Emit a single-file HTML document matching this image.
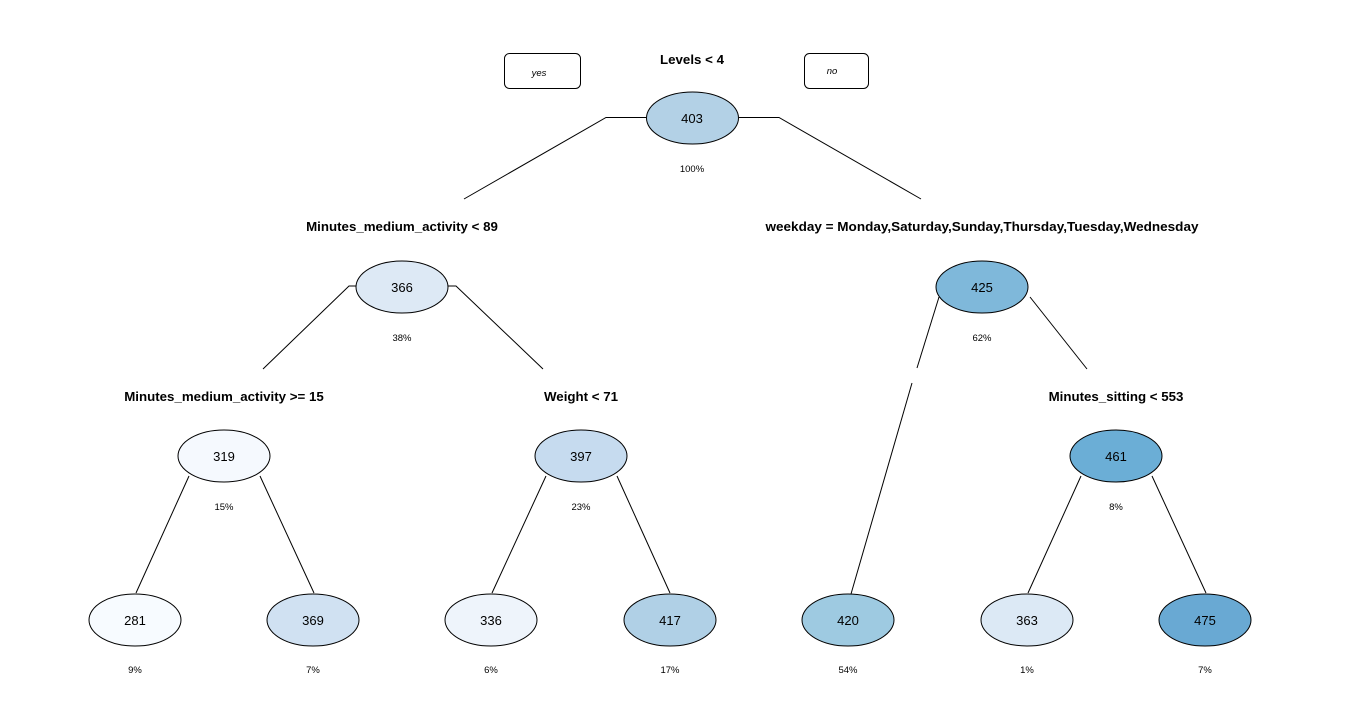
<!DOCTYPE html>
<html><head><meta charset="utf-8"><style>
html,body{margin:0;padding:0;background:#fff;}
svg{display:block;}
text{font-family:"Liberation Sans",Arial,sans-serif;fill:#000;}
.b{font-weight:bold;font-size:13.3px;}
.n{font-size:13px;}
.p{font-size:9.5px;}
.i{font-style:italic;font-size:9.5px;}
ellipse{stroke:#000;stroke-width:1;}
line,polyline{stroke:#000;stroke-width:1;fill:none;}
</style></head><body>
<svg width="1366" height="705" viewBox="0 0 1366 705">
<rect x="504.5" y="53.5" width="76" height="35" rx="5" fill="#fff" stroke="#000"/>
<text class="i" x="539" y="76" text-anchor="middle">yes</text>
<rect x="804.5" y="53.5" width="64" height="35" rx="5" fill="#fff" stroke="#000"/>
<text class="i" x="832" y="74" text-anchor="middle">no</text>

<polyline points="646,117.5 606,117.5 464,199"/>
<polyline points="739,117.5 779,117.5 921,199"/>
<polyline points="356,286 349,286 263,369"/>
<polyline points="448,286 456,286 543,369"/>
<line x1="939" y1="297" x2="917" y2="368"/>
<line x1="912" y1="383" x2="851" y2="594"/>
<line x1="1030" y1="297" x2="1087" y2="369"/>
<line x1="189" y1="476" x2="136" y2="593"/>
<line x1="260" y1="476" x2="314" y2="593"/>
<line x1="546" y1="476" x2="492" y2="593"/>
<line x1="617" y1="476" x2="670" y2="593"/>
<line x1="1081" y1="476" x2="1028" y2="593"/>
<line x1="1152" y1="476" x2="1206" y2="593"/>

<text class="b" x="692" y="64" text-anchor="middle">Levels &lt; 4</text>
<text class="b" x="402" y="231" text-anchor="middle">Minutes_medium_activity &lt; 89</text>
<text class="b" x="982" y="231" text-anchor="middle" textLength="433" lengthAdjust="spacingAndGlyphs">weekday = Monday,Saturday,Sunday,Thursday,Tuesday,Wednesday</text>
<text class="b" x="224" y="401" text-anchor="middle">Minutes_medium_activity &gt;= 15</text>
<text class="b" x="581" y="401" text-anchor="middle">Weight &lt; 71</text>
<text class="b" x="1116" y="401" text-anchor="middle">Minutes_sitting &lt; 553</text>

<g>
<ellipse cx="692.5" cy="118" rx="46" ry="26" fill="#b3d1e6"/><text class="n" x="692" y="123" text-anchor="middle">403</text><text class="p" x="692" y="172" text-anchor="middle">100%</text>
<ellipse cx="402" cy="287" rx="46" ry="26" fill="#dde9f5"/><text class="n" x="402" y="292" text-anchor="middle">366</text><text class="p" x="402" y="341" text-anchor="middle">38%</text>
<ellipse cx="982" cy="287" rx="46" ry="26" fill="#7fb8da"/><text class="n" x="982" y="292" text-anchor="middle">425</text><text class="p" x="982" y="341" text-anchor="middle">62%</text>
<ellipse cx="224" cy="456" rx="46" ry="26" fill="#f5f9fe"/><text class="n" x="224" y="461" text-anchor="middle">319</text><text class="p" x="224" y="510" text-anchor="middle">15%</text>
<ellipse cx="581" cy="456" rx="46" ry="26" fill="#c6dbef"/><text class="n" x="581" y="461" text-anchor="middle">397</text><text class="p" x="581" y="510" text-anchor="middle">23%</text>
<ellipse cx="1116" cy="456" rx="46" ry="26" fill="#6baed6"/><text class="n" x="1116" y="461" text-anchor="middle">461</text><text class="p" x="1116" y="510" text-anchor="middle">8%</text>
<ellipse cx="135" cy="620" rx="46" ry="26" fill="#f7fbff"/><text class="n" x="135" y="625" text-anchor="middle">281</text><text class="p" x="135" y="673" text-anchor="middle">9%</text>
<ellipse cx="313" cy="620" rx="46" ry="26" fill="#d0e1f2"/><text class="n" x="313" y="625" text-anchor="middle">369</text><text class="p" x="313" y="673" text-anchor="middle">7%</text>
<ellipse cx="491" cy="620" rx="46" ry="26" fill="#eef4fb"/><text class="n" x="491" y="625" text-anchor="middle">336</text><text class="p" x="491" y="673" text-anchor="middle">6%</text>
<ellipse cx="670" cy="620" rx="46" ry="26" fill="#b0d0e6"/><text class="n" x="670" y="625" text-anchor="middle">417</text><text class="p" x="670" y="673" text-anchor="middle">17%</text>
<ellipse cx="848" cy="620" rx="46" ry="26" fill="#9ecae1"/><text class="n" x="848" y="625" text-anchor="middle">420</text><text class="p" x="848" y="673" text-anchor="middle">54%</text>
<ellipse cx="1027" cy="620" rx="46" ry="26" fill="#dce9f5"/><text class="n" x="1027" y="625" text-anchor="middle">363</text><text class="p" x="1027" y="673" text-anchor="middle">1%</text>
<ellipse cx="1205" cy="620" rx="46" ry="26" fill="#69a9d3"/><text class="n" x="1205" y="625" text-anchor="middle">475</text><text class="p" x="1205" y="673" text-anchor="middle">7%</text>
</g>
</svg>
</body></html>
